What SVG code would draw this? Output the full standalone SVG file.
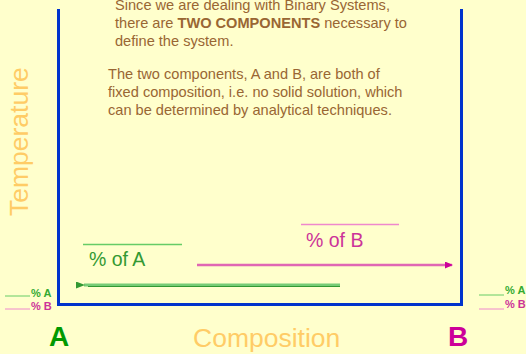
<svg xmlns="http://www.w3.org/2000/svg" width="526" height="354" viewBox="0 0 526 354">
<defs>
<style>
.t{font-family:"Liberation Sans",Arial,sans-serif;}
.body{font-size:14.6px;fill:#996633;}
.axis{stroke:#0033CC;stroke-width:3;fill:none;}
.lbl{font-size:26.5px;fill:#FFCC66;}
.g{fill:#339933;}
.p{fill:#CC3399;}
.small{font-size:11px;font-weight:bold;}
</style>
<marker id="ag" markerWidth="9" markerHeight="7" refX="1" refY="3.5" orient="auto" markerUnits="userSpaceOnUse"><path d="M9,0 L0,3.5 L9,7 Z" fill="#339933"/></marker>
<marker id="ap" markerWidth="8" markerHeight="7" refX="7" refY="3.5" orient="auto" markerUnits="userSpaceOnUse"><path d="M0,0 L8,3.5 L0,7 Z" fill="#CC0099"/></marker>
</defs>
<rect width="526" height="354" fill="#FFFFCC"/>
<g id="axes">
<path class="axis" d="M58.5,9 V304.5 H461.5 V9"/>
</g>
<g id="text-top" class="t body">
<text x="115" y="10">Since we are dealing with Binary Systems,</text>
<text x="115" y="28">there are <tspan font-weight="bold">TWO COMPONENTS</tspan> necessary to</text>
<text x="115" y="46">define the system.</text>
<text x="108" y="79">The two components, A and B, are both of</text>
<text x="108" y="97">fixed composition, i.e. no solid solution, which</text>
<text x="108" y="115">can be determined by analytical techniques.</text>
</g>
<g id="temperature"><text class="t lbl" transform="translate(28,216) rotate(-90)">Temperature</text></g>
<g id="composition"><text class="t lbl" x="193" y="347">Composition</text></g>
<g id="labelA"><text class="t" x="49" y="346" font-size="28" font-weight="bold" fill="#009900">A</text></g>
<g id="labelB"><text class="t" x="448" y="346" font-size="28" font-weight="bold" fill="#CC0099">B</text></g>
<g id="legend-left">
<line x1="5" y1="296" x2="30" y2="296" stroke="#66CC66" stroke-width="1"/>
<text class="t small" x="31" y="297" fill="#33AA33">% A</text>
<line x1="5" y1="309" x2="30" y2="309" stroke="#EE88CC" stroke-width="1"/>
<text class="t small" x="31" y="309.5" fill="#CC3399">% B</text>
</g>
<g id="legend-right">
<line x1="479" y1="295" x2="504" y2="295" stroke="#66CC66" stroke-width="1"/>
<text class="t small" x="505" y="294" fill="#33AA33">% A</text>
<line x1="479" y1="309" x2="504" y2="309" stroke="#EE88CC" stroke-width="1"/>
<text class="t small" x="505" y="307.5" fill="#CC3399">% B</text>
</g>
<g id="percentA">
<line x1="83" y1="244.5" x2="182" y2="244.5" stroke="#66CC66" stroke-width="1.5"/>
<text class="t g" x="89" y="266" font-size="19.5">% of A</text>
</g>
<g id="percentB">
<line x1="301" y1="224.5" x2="399" y2="224.5" stroke="#EE88CC" stroke-width="1.5"/>
<text class="t p" x="306" y="247" font-size="19.5">% of B</text>
</g>
<g id="connectors">
<line x1="340" y1="285" x2="84" y2="285" stroke="#77CC77" stroke-width="3" marker-end="url(#ag)"/>
<line x1="340" y1="286.5" x2="88" y2="286.5" stroke="#339933" stroke-width="1"/>
<line x1="197" y1="265" x2="452" y2="265" stroke="#E066B3" stroke-width="2.5" marker-end="url(#ap)"/>
</g>
</svg>
